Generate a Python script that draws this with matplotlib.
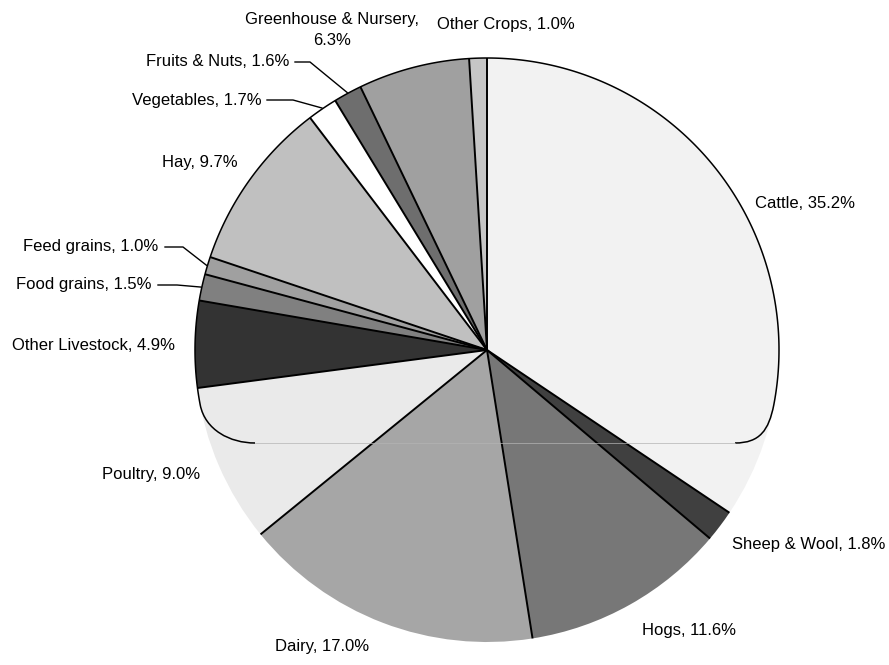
"""
Farm cash receipts by commodity: grayscale pie with outside labels and leader lines.
Drawn on a pixel-sized axes (889 x 665, y up) so label placement is in screen units.
"""
import numpy as np
import matplotlib
matplotlib.use("Agg")
import matplotlib.pyplot as plt
from matplotlib.path import Path
from matplotlib.patches import PathPatch

W, H = 889, 665
CX, CY, R = 487, H - 350, 292          # pie centre / radius in pixels

labels = ["Cattle", "Sheep & Wool", "Hogs", "Dairy", "Poultry", "Other Livestock",
          "Food grains", "Feed grains", "Hay", "Vegetables", "Fruits & Nuts",
          "Greenhouse & Nursery", "Other Crops"]
shares = [35.2, 1.8, 11.6, 17.0, 9.0, 4.9, 1.5, 1.0, 9.7, 1.7, 1.6, 6.3, 1.0]
greys = ["#f2f2f2", "#404040", "#777777", "#a6a6a6", "#eaeaea", "#333333",
         "#808080", "#a0a0a0", "#c0c0c0", "#ffffff", "#6e6e6e", "#a0a0a0", "#c6c6c6"]

# label anchor (x, y from top), alignment; leader = knee point or None
label_pos = {
    "Cattle":               (755, 203, "left",   None),
    "Sheep & Wool":         (732, 545, "left",   None),
    "Hogs":                 (642, 630, "left",   None),
    "Dairy":                (275, 647, "left",   None),
    "Poultry":              (102, 474, "left",   None),
    "Other Livestock":      (12, 346,  "left",   None),
    "Food grains":          (152, 284, "right",  (158, 177, 285)),
    "Feed grains":          (158, 247, "right",  (165, 183, 247)),
    "Hay":                  (162, 163, "left",   None),
    "Vegetables":           (262, 100, "right",  (267, 293, 100)),
    "Fruits & Nuts":        (289, 62,  "right",  (295, 310, 62)),
    "Greenhouse & Nursery": (332, 30,  "center", None),
    "Other Crops":          (437, 25,  "left",   None),
}

plt.rcParams["font.family"] = ["Liberation Sans", "DejaVu Sans"]

fig = plt.figure(figsize=(W / 100, H / 100), dpi=100)
ax = fig.add_axes([0, 0, 1, 1])

wedges, _ = ax.pie(shares, colors=greys, startangle=90, counterclock=False,
                   center=(CX, CY), radius=R,
                   wedgeprops=dict(edgecolor="none", linewidth=0))
ax.set_xlim(0, W)
ax.set_ylim(0, H)
ax.set_aspect("equal")
ax.axis("off")

# radial separators between slices
for w in wedges:
    t = np.deg2rad(w.theta1)
    ax.plot([CX, CX + R * np.cos(t)], [CY, CY + R * np.sin(t)],
            color="black", lw=1.4, solid_capstyle="butt", zorder=3)

# outer rim: only the upper part is outlined, ending in rounded corners
y_cut = H - 405
y_base = H - 443
a = np.degrees(np.arcsin((CY - y_cut) / R))
ang = np.deg2rad(np.linspace(180 + a, -a, 300))
rim_x, rim_y = CX + R * np.cos(ang), CY + R * np.sin(ang)
left_pts = [(255, y_base), (230, y_base), (rim_x[0] + 5, y_base + 13), (rim_x[0], rim_y[0])]
right_pts = [(rim_x[-1], rim_y[-1]), (rim_x[-1] - 5, y_base + 13), (760, y_base), (735, y_base)]
verts = left_pts + list(zip(rim_x[1:-1], rim_y[1:-1])) + right_pts
codes = ([Path.MOVETO, Path.CURVE4, Path.CURVE4, Path.CURVE4]
         + [Path.LINETO] * (len(rim_x) - 2)
         + [Path.LINETO, Path.CURVE4, Path.CURVE4, Path.CURVE4])
ax.add_patch(PathPatch(Path(verts, codes), fill=False, edgecolor="black", lw=1.1, zorder=3))
ax.plot([255, 735], [y_base, y_base], color="#b4b4b4", lw=0.5, zorder=3)

# labels and leader lines
total = sum(shares)
for w, name, val in zip(wedges, labels, shares):
    x, y, ha, lead = label_pos[name]
    text = f"{name}, {val:.1f}%"
    if name == "Greenhouse & Nursery":
        text = f"{name},\n{val:.1f}%"
    ax.text(x, H - y, text, ha=ha, va="center", fontsize=12, linespacing=1.45,
            color="black", zorder=4)
    if lead is not None:
        x0, x1, ly = lead
        mid = np.deg2rad(0.5 * (w.theta1 + w.theta2))
        ex, ey = CX + (R + 1) * np.cos(mid), CY + (R + 1) * np.sin(mid)
        ax.plot([x0, x1, ex], [H - ly, H - ly, ey], color="black", lw=1.0, zorder=4)

fig.savefig("out.png", dpi=100)
